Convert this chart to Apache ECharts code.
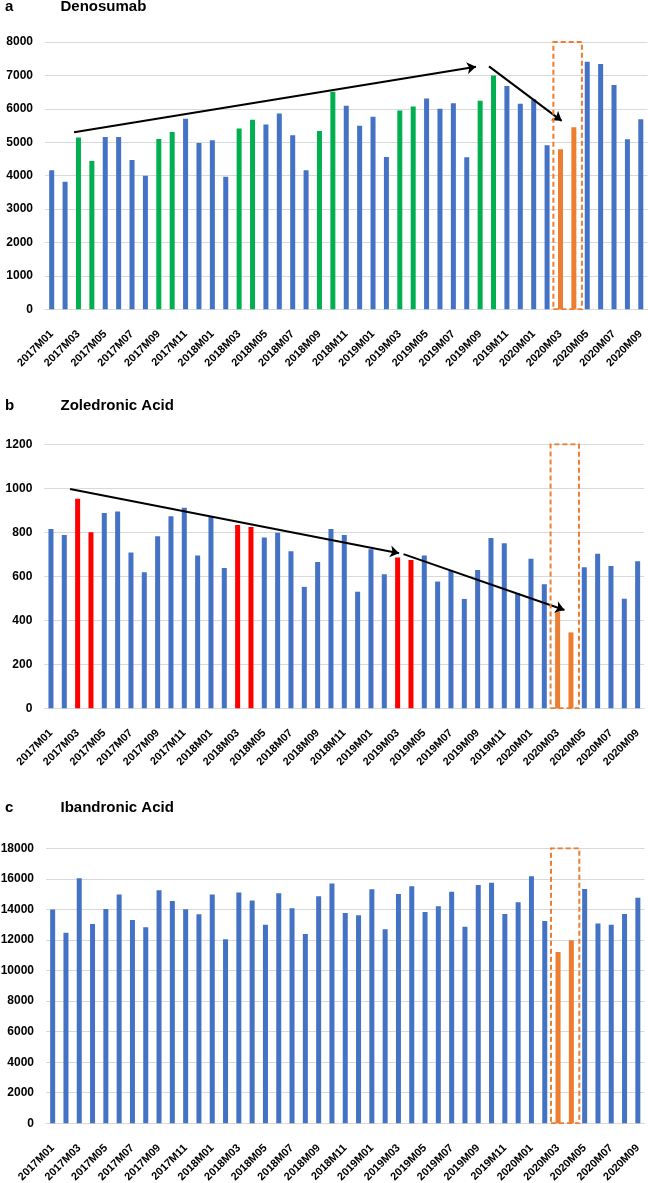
<!DOCTYPE html>
<html>
<head>
<meta charset="utf-8">
<script src="https://cdn.jsdelivr.net/npm/echarts@6/dist/echarts.min.js"></script>
<style>
html,body{margin:0;padding:0;background:#fff;}
#chart{width:648px;height:1183px;}
</style>
</head>
<body>
<div id="chart"></div>
<script>
const months = ['2017M01','2017M02','2017M03','2017M04','2017M05','2017M06','2017M07','2017M08','2017M09','2017M10','2017M11','2017M12',
'2018M01','2018M02','2018M03','2018M04','2018M05','2018M06','2018M07','2018M08','2018M09','2018M10','2018M11','2018M12',
'2019M01','2019M02','2019M03','2019M04','2019M05','2019M06','2019M07','2019M08','2019M09','2019M10','2019M11','2019M12',
'2020M01','2020M02','2020M03','2020M04','2020M05','2020M06','2020M07','2020M08','2020M09'];

const denosumab = [4160,3820,5140,4440,5160,5160,4470,4000,5100,5310,5700,4980,
5060,3970,5410,5670,5530,5860,5210,4160,5340,6510,6090,5490,
5760,4560,5950,6070,6310,6000,6170,4550,6240,7000,6680,6150,
6290,4910,4790,5450,7410,7340,6710,5090,5690];

const zoledronic = [815,788,953,800,888,895,708,618,782,873,912,694,
870,638,833,824,776,798,714,552,665,815,788,530,
723,609,686,674,695,576,624,497,629,774,750,523,
680,564,438,345,641,702,647,498,668];

const ibandronic = [14000,12480,16040,13050,14030,14970,13310,12830,15250,14550,14010,13680,
14970,12040,15100,14580,13000,15050,14070,12390,14860,15690,13770,13610,
15320,12700,15010,15510,13830,14200,15160,12870,15600,15750,13700,14470,
16170,13240,11210,11980,15340,13070,13000,13700,14770];

// highlighted months
const denoGreen = ['2017M03','2017M04','2017M09','2017M10','2018M03','2018M04','2018M09','2018M10','2019M03','2019M04','2019M09','2019M10'];
const zoleRed = ['2017M03','2017M04','2018M03','2018M04','2019M03','2019M04'];
const covidMonths = ['2020M03','2020M04'];

// trend arrows, in [category index, value] coordinates
const denoArrows = [[[1.67,5300],[31.69,7260]], [[32.66,7270],[38.09,5640]]];
const zoleArrows = [[[1.43,997],[26.11,705]], [[26.44,701],[38.51,447]]];
// dashed box around the covid months (category index span)
const boxSpan = [37.47, 39.6];

const yMax = [8000, 1200, 18000];
const yStep = [1000, 200, 2000];
const titles = [['a','Denosumab'],['b','Zoledronic Acid'],['c','Ibandronic Acid']];

const BLUE='#4472C4', GREEN='#00B050', RED='#FF0000', ORANGE='#ED7D31';
const FONT='"Liberation Sans", Arial, sans-serif';

function barData(values, hl, hlColor){
  return values.map((v,i)=>{
    const m = months[i];
    let c = BLUE;
    if (covidMonths.includes(m)) c = ORANGE;
    else if (hl.includes(m)) c = hlColor;
    return {value:v, itemStyle:{color:c}};
  });
}

const grids = [
  {left:45, right:0.5, top:42, height:267.3, outerBoundsMode:'none', containLabel:false},
  {left:44.3, right:3.7, top:444.3, height:264, outerBoundsMode:'none', containLabel:false},
  {left:46, right:3.5, top:848.3, height:275, outerBoundsMode:'none', containLabel:false}
];

const xAxis=[], yAxis=[], series=[];
grids.forEach((g,gi)=>{
  xAxis.push({
    type:'category', gridIndex:gi, data:months,
    axisLine:{show:true, lineStyle:{color:'#d9d9d9', width:1}},
    axisTick:{show:false},
    axisLabel:{interval:1, rotate:45, margin:23, color:'#000', fontWeight:'bold', fontSize:11, fontFamily:FONT}
  });
  xAxis.push({type:'value', gridIndex:gi, min:-0.5, max:44.5, show:false});
  yAxis.push({
    type:'value', gridIndex:gi, min:0, max:yMax[gi], interval:yStep[gi],
    axisLine:{show:false}, axisTick:{show:false},
    splitLine:{lineStyle:{color:'#d9d9d9', width:1}},
    axisLabel:{margin:12, color:'#000', fontWeight:'bold', fontSize:12, fontFamily:FONT,
      formatter:(v)=>String(v)}
  });
});

series.push({type:'bar', xAxisIndex:0, yAxisIndex:0, barWidth:5, data:barData(denosumab, denoGreen, GREEN)});
series.push({type:'bar', xAxisIndex:2, yAxisIndex:1, barWidth:5, data:barData(zoledronic, zoleRed, RED)});
series.push({type:'bar', xAxisIndex:4, yAxisIndex:2, barWidth:5, data:barData(ibandronic, [], BLUE)});

// arrows
[[denoArrows,1,0],[zoleArrows,3,1]].forEach(([arr,xi,yi])=>{
  series.push({
    type:'lines', coordinateSystem:'cartesian2d', xAxisIndex:xi, yAxisIndex:yi, z:5,
    symbol:['none','arrow'], symbolSize:9,
    lineStyle:{color:'#000', width:2, opacity:1, curveness:0},
    data:arr.map(c=>({coords:c}))
  });
});
// dashed boxes
[0,1,2].forEach(gi=>{
  const m = yMax[gi];
  series.push({
    type:'lines', coordinateSystem:'cartesian2d', xAxisIndex:gi*2+1, yAxisIndex:gi, z:6,
    polyline:true, symbol:'none',
    lineStyle:{color:ORANGE, width:2, opacity:1, type:[5,3]},
    data:[{coords:[[boxSpan[0],0],[boxSpan[1],0],[boxSpan[1],m],[boxSpan[0],m],[boxSpan[0],0]]}]
  });
});

const titleY = [7, 406, 807.5];
const graphic = [];
titles.forEach((t,i)=>{
  graphic.push({type:'text', x:5, y:titleY[i], style:{text:t[0], font:'bold 15px '+FONT, fill:'#000', verticalAlign:'middle'}});
  graphic.push({type:'text', x:60.5, y:titleY[i], style:{text:t[1], font:'bold 15px '+FONT, fill:'#000', verticalAlign:'middle'}});
});

const chart = echarts.init(document.getElementById('chart'), null, {renderer:'canvas'});
chart.setOption({
  animation:false,
  backgroundColor:'#fff',
  grid:grids, xAxis, yAxis, series, graphic
});
</script>
</body>
</html>
